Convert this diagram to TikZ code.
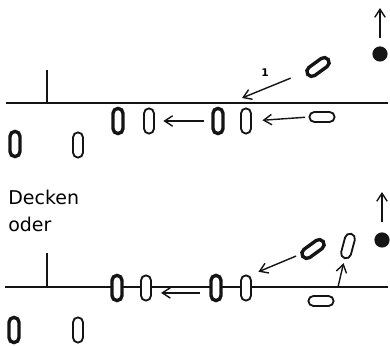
\documentclass[tikz,border=0pt]{standalone}
\usepackage{fontspec}
\setmainfont{DejaVu Sans}
\usepackage{tikz}
\usetikzlibrary{arrows.meta, positioning}
\definecolor{ink}{RGB}{20, 20, 20}
\tikzstyle{pill} = [rectangle, rounded corners=0.125cm, minimum width=0.25cm, minimum height=0.63cm,
                    inner sep=0pt, draw=ink, fill=white, line width=1.3pt]
\tikzstyle{boldpill} = [pill, line width=2.4pt]
\tikzstyle{dot} = [circle, fill=ink, inner sep=0pt, minimum size=0.38cm]
\tikzstyle{ground} = [draw=ink, line width=1.2pt]
\tikzstyle{arrow} = [-{Straight Barb[length=2mm, width=2.6mm]}, draw=ink, line width=1pt]

\begin{document}
\begin{tikzpicture}[x=0.025cm, y=0.025cm]
    \useasboundingbox (0,0) rectangle (390,346);
    % Upper row
    \draw[ground] (6,243) -- (388,243);
    \draw[draw=ink, line width=0.9pt] (47,243) -- (47,276);
    \node[boldpill] (a1) at (15,202) {};
    \node[pill] (b1) at (78,201) {};
    \node[boldpill] (c1) at (118,225) {};
    \node[pill] (d1) at (149,225) {};
    \node[boldpill] (e1) at (218,225) {};
    \node[pill] (f1) at (246,225) {};
    \node[pill, rotate=90] (g1) at (322,229) {};
    \node[boldpill, rotate=-54] (h1) at (318,279) {};
    \node[dot] (ball1) at (380,292) {};
    \coordinate (hit1) at (242,248);
    \coordinate (up1) at (380,338);
    \node[font=\fontsize{7.5}{8}\selectfont\bfseries] (mark1) at (265,273) {1};

    % Lower row
    \node[anchor=north west, align=left, inner sep=0pt, font=\fontsize{13.5}{19}\selectfont]
        (decken) at (8,156) {Decken\\oder};
    \draw[ground] (5,59) -- (388,59);
    \draw[draw=ink, line width=0.9pt] (47,59) -- (47,93);
    \node[boldpill] (a2) at (14,16) {};
    \node[pill] (b2) at (78,16) {};
    \node[boldpill] (c2) at (117,58) {};
    \node[pill] (d2) at (146,58) {};
    \node[boldpill] (e2) at (216,58) {};
    \node[pill] (f2) at (246,58) {};
    \node[pill, rotate=90] (g2) at (321,45) {};
    \node[boldpill, rotate=-54] (h2) at (313,97) {};
    \node[pill, rotate=-15] (v2) at (348,100) {};
    \node[dot] (ball2) at (382,106) {};
    \coordinate (lift) at (338,59);
    \coordinate (up2) at (382,154);

    % Moves
    \draw[arrow, shorten <=5.5pt, shorten >=6pt] (e1.west) -- (d1.east);
    \draw[arrow, shorten <=3pt, shorten >=7.5pt] (g1.center) ++(-12.6,0) -- (f1.east);
    \draw[arrow, shorten <=21pt] (h1.center) -- (hit1);
    \draw[arrow, shorten <=6pt] (ball1.north) -- (up1);
    \draw[arrow, shorten <=6.5pt, shorten >=6.5pt] ([yshift=-3.5pt]e2.west) -- ([yshift=-3.5pt]d2.east);
    \draw[arrow, shorten <=13pt, shorten >=5pt] (h2.center) -- (f2.north east);
    \draw[arrow, shorten >=3pt] (lift) -- (v2.south);
    \draw[arrow, shorten <=7pt] (ball2.north) -- (up2);
\end{tikzpicture}
\end{document}
